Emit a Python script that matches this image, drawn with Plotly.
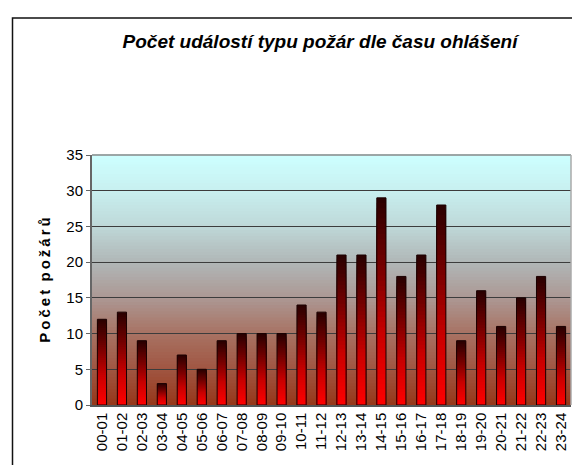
import plotly.graph_objects as go

categories = ["00-01", "01-02", "02-03", "03-04", "04-05", "05-06", "06-07", "07-08",
              "08-09", "09-10", "10-11", "11-12", "12-13", "13-14", "14-15", "15-16",
              "16-17", "17-18", "18-19", "19-20", "20-21", "21-22", "22-23", "23-24"]
values = [12, 13, 9, 3, 7, 5, 9, 10, 10, 10, 14, 13, 21, 21, 29, 18, 21, 28, 9, 16, 11, 15, 18, 11]
y_ticks = [0, 5, 10, 15, 20, 25, 30, 35]

title_text = "Počet událostí typu požár dle času ohlášení"
y_title = "Počet požárů"

FONT = "Liberation Sans, Arial, sans-serif"


def lerp(c1, c2, t):
    return tuple(round(a + (b - a) * t) for a, b in zip(c1, c2))


def rgb(c):
    return "rgb(%d,%d,%d)" % c


def stops_color(stops, t):
    for (t0, c0), (t1, c1) in zip(stops[:-1], stops[1:]):
        if t0 <= t <= t1:
            return lerp(c0, c1, (t - t0) / (t1 - t0))
    return stops[-1][1]


fig = go.Figure()

# bar gradient: draw from full height (dark) down to short (bright), each covering the lower part
N = 40
bar_stops = [(0.0, (255, 0, 0)), (0.35, (200, 0, 0)), (0.7, (110, 0, 0)), (1.0, (40, 0, 0))]
for k in range(N):
    frac = 1 - k / N
    col = stops_color(bar_stops, frac - 0.5 / N)
    fig.add_trace(go.Bar(
        x=categories,
        y=[v * frac for v in values],
        width=0.46,
        marker=dict(color=rgb(col), line=dict(width=0)),
        hoverinfo="skip",
        showlegend=False,
    ))

# outline
fig.add_trace(go.Bar(
    x=categories, y=values, width=0.46,
    marker=dict(color="rgba(0,0,0,0)", line=dict(color="#1a0000", width=1)),
    showlegend=False,
))

# background gradient of the plot area
bg_stops = [(0.0, (150, 55, 25)), (0.14, (160, 85, 65)), (0.29, (168, 115, 100)),
            (0.43, (172, 152, 148)), (0.57, (176, 182, 182)), (0.71, (190, 215, 215)),
            (0.86, (200, 240, 240)), (1.0, (205, 255, 255))]
shapes = []
S = 80
for i in range(S):
    t0 = i / S
    t1 = (i + 1) / S
    col = stops_color(bg_stops, (t0 + t1) / 2)
    shapes.append(dict(type="rect", xref="x domain", yref="y domain",
                       x0=0, x1=1, y0=t0, y1=t1 + 0.003,
                       fillcolor=rgb(col), line=dict(width=0), layer="below"))

# outer frame
shapes.append(dict(type="rect", xref="paper", yref="paper",
                   x0=-84 / 479 + 4.5 / 479, x1=1 + 17 / 479 + 2 / 479,
                   y0=-68 / 250 + 3 / 250, y1=1 + 137 / 250,
                   line=dict(color="#111111", width=1.5), fillcolor="rgba(0,0,0,0)",
                   layer="below"))

spaced_title = "\u2009".join(list(y_title)).replace("\u2009 \u2009", "  ")

fig.update_layout(
    width=580, height=465,
    margin=dict(l=84, r=17, t=147, b=68),
    paper_bgcolor="white",
    plot_bgcolor="rgba(0,0,0,0)",
    barmode="overlay",
    shapes=shapes,
    font=dict(family=FONT, size=15, color="black"),
    title=dict(text="<b><i>" + title_text + "</i></b>", x=312 / 580, xanchor="center",
               y=1 - 33 / 465, yanchor="middle",
               font=dict(family=FONT, size=19, color="black")),
    xaxis=dict(
        type="category", categoryorder="array", categoryarray=categories,
        tickangle=-90, showgrid=False, showline=True, linecolor="#555555", linewidth=1.5,
        ticks="", tickfont=dict(size=15),
        range=[-0.5, len(categories) - 0.5],
    ),
    yaxis=dict(
        range=[0, 35], tickvals=y_ticks, showgrid=True, gridcolor="#3c3c3c", gridwidth=1,
        showline=True, linecolor="#666666", linewidth=2, ticks="outside", ticklen=4,
        tickcolor="#666666", tickfont=dict(size=15),
        title=dict(text="<b>" + spaced_title + "</b>", font=dict(family=FONT, size=15),
                   standoff=12),
        zeroline=False,
    ),
)

# top and right borders of the plot area
fig.add_shape(type="line", xref="x domain", yref="y domain", x0=0, x1=1, y0=1, y1=1,
              line=dict(color="#888888", width=1.5))
fig.add_shape(type="line", xref="x domain", yref="y domain", x0=1, x1=1, y0=0, y1=1,
              line=dict(color="#aaaaaa", width=1.5))

fig.write_html("out.html")
